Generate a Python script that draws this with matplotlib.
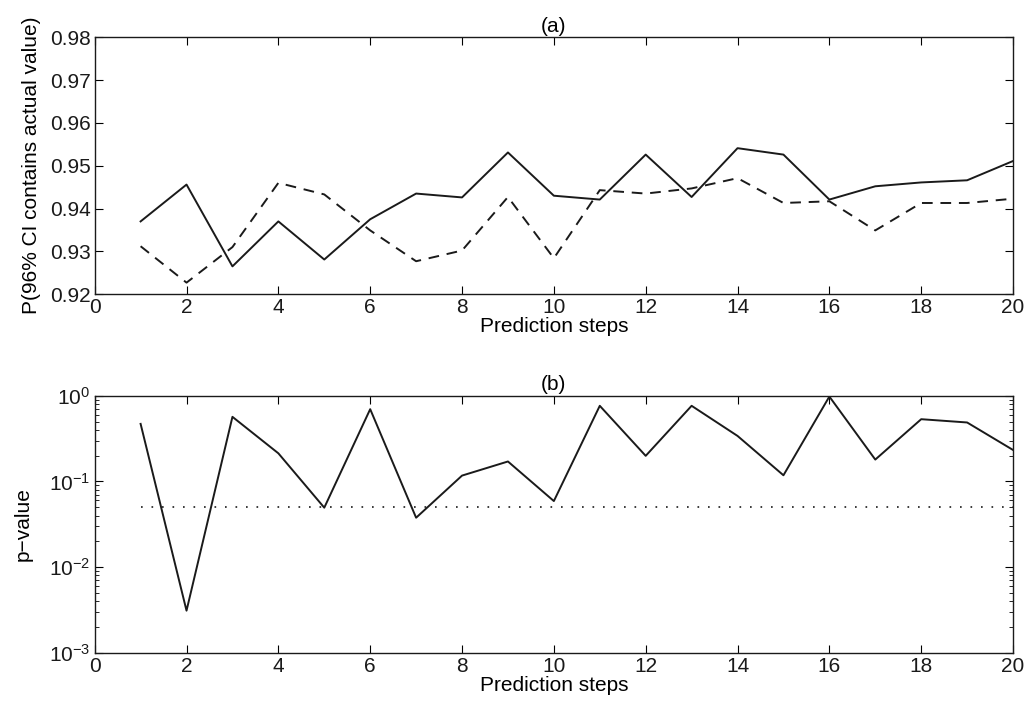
import matplotlib
matplotlib.use('Agg')
import matplotlib.pyplot as plt
from matplotlib.ticker import LogLocator, NullFormatter

plt.rcParams['font.family'] = ['Liberation Sans', 'DejaVu Sans']
plt.rcParams['font.size'] = 15

# data
steps = list(range(1, 21))
coverage_solid = [0.9370, 0.9456, 0.9265, 0.9370, 0.9281, 0.9375, 0.9435, 0.9426, 0.9531, 0.9430,
                  0.9421, 0.9526, 0.9427, 0.9541, 0.9526, 0.9421, 0.9452, 0.9461, 0.9466, 0.9511]
coverage_dashed = [0.9312, 0.9227, 0.9310, 0.9460, 0.9433, 0.9349, 0.9277, 0.9302, 0.9427, 0.9284,
                   0.9443, 0.9435, 0.9447, 0.9471, 0.9413, 0.9417, 0.9349, 0.9413, 0.9413, 0.9423]
p_values = [0.47, 0.0031, 0.568, 0.213, 0.0494, 0.698, 0.0377, 0.117, 0.171, 0.059,
            0.764, 0.199, 0.764, 0.340, 0.118, 0.98, 0.18, 0.533, 0.488, 0.233]
alpha = 0.05

xticks = list(range(0, 21, 2))
yticks_a = [0.92, 0.93, 0.94, 0.95, 0.96, 0.97, 0.98]

fig = plt.figure(figsize=(10.27, 7.03), dpi=100)
ax1 = fig.add_axes([0.0922, 0.5815, 0.8942, 0.3655])
ax2 = fig.add_axes([0.0922, 0.0715, 0.8942, 0.3655])

# (a) coverage
ax1.plot(steps, coverage_solid, color='#1a1a1a', lw=1.4)
ax1.plot(steps, coverage_dashed, color='#1a1a1a', lw=1.4, dashes=(5.5, 4.0))
ax1.set_xlim(0, 20)
ax1.set_ylim(0.92, 0.98)
ax1.set_xticks(xticks)
ax1.set_yticks(yticks_a)
ax1.set_yticklabels(['%.2f' % v for v in yticks_a])
ax1.set_xlabel('Prediction steps', labelpad=0)
ax1.set_ylabel('P(96% CI contains actual value)', labelpad=6)
ax1.set_title('(a)', fontsize=15, pad=4)

# (b) p-values
ax2.semilogy(steps, p_values, color='#1a1a1a', lw=1.4)
ax2.plot([steps[0], steps[-1]], [alpha, alpha], color='#1a1a1a', lw=1.2, dashes=(1, 5.3))
ax2.set_xlim(0, 20)
ax2.set_ylim(1e-3, 1)
ax2.set_xticks(xticks)
ax2.yaxis.set_major_locator(LogLocator(base=10, numticks=10))
ax2.yaxis.set_minor_locator(LogLocator(base=10, subs=range(2, 10), numticks=20))
ax2.yaxis.set_minor_formatter(NullFormatter())
ax2.set_xlabel('Prediction steps', labelpad=0)
ax2.set_ylabel('p\u2212value', labelpad=12)
ax2.set_title('(b)', fontsize=15, pad=4)

for ax in (ax1, ax2):
    for s in ax.spines.values():
        s.set_linewidth(1.0)
        s.set_color('#1a1a1a')
    ax.tick_params(which='major', direction='in', length=6, width=0.8,
                   top=True, right=True, pad=3, labelcolor='#1a1a1a')
    ax.tick_params(which='minor', direction='in', length=3, width=0.6,
                   top=True, right=True)

fig.savefig('out.png', dpi=100)
